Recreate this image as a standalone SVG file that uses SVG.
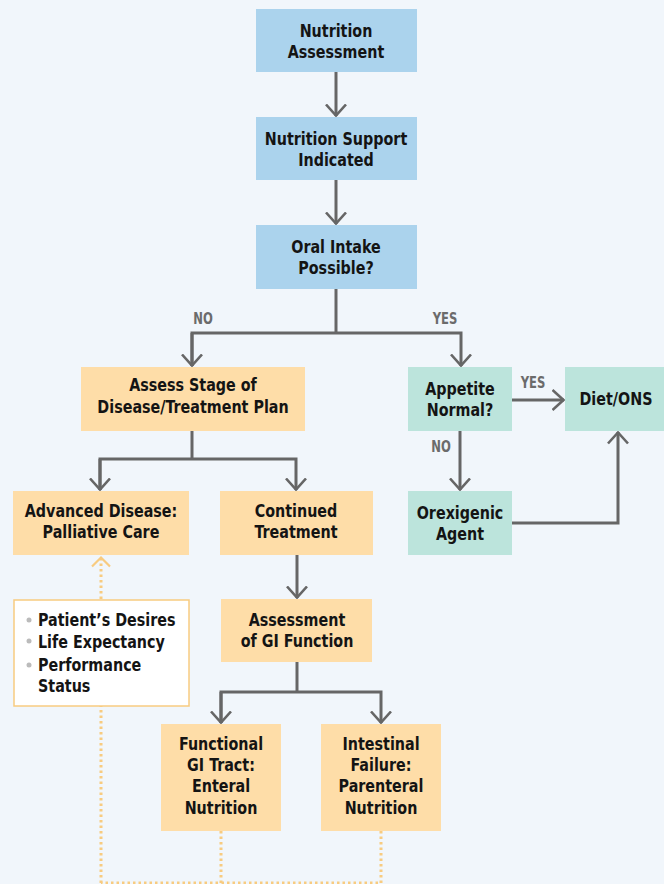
<svg xmlns="http://www.w3.org/2000/svg" width="664" height="884" viewBox="0 0 664 884">
<defs>
<style>
.t{font-family:"DejaVu Sans Condensed","Liberation Sans",sans-serif;font-weight:bold;font-size:18.5px;fill:#141414;text-anchor:middle}
.b{fill:#abd3ed}
.o{fill:#fedda8}
.g{fill:#bce4dc}
.c{fill:none;stroke:#666;stroke-width:3}
.d{fill:none;stroke:#f8cb80;stroke-width:3;stroke-dasharray:2.5 3}
.lbl{font-family:"DejaVu Sans Condensed","Liberation Sans",sans-serif;font-weight:bold;font-size:15px;fill:#6b6b6b;text-anchor:middle}
.bl{font-family:"DejaVu Sans Condensed","Liberation Sans",sans-serif;font-weight:bold;font-size:18.5px;fill:#141414}
</style>
<marker id="a" viewBox="0 0 14 22" refX="12.5" refY="11" markerWidth="14" markerHeight="22" markerUnits="userSpaceOnUse" orient="auto">
<path d="M1 1 L12 11 L1 21" fill="none" stroke="#666" stroke-width="2.6"/>
</marker>
<marker id="ad" viewBox="0 0 14 22" refX="12.5" refY="11" markerWidth="14" markerHeight="22" markerUnits="userSpaceOnUse" orient="auto">
<path d="M2 2 L11 11 L2 20" fill="none" stroke="#f8cb80" stroke-width="2.2"/>
</marker>
</defs>
<rect width="664" height="884" fill="#f1f6fb"/>
<g id="connectors">
<path class="c" d="M336 72 V116" marker-end="url(#a)"/>
<path class="c" d="M336 180 V224" marker-end="url(#a)"/>
<path class="c" d="M336 289 V333"/>
<path class="c" d="M192 366 V333 H461 V366" marker-end="url(#a)"/>
<path class="c" d="M192 333 V366" marker-end="url(#a)"/>
<path class="c" d="M512 400 H564" marker-end="url(#a)"/>
<path class="c" d="M460 431 V490" marker-end="url(#a)"/>
<path class="c" d="M512 523 H618 V432" marker-end="url(#a)"/>
<path class="c" d="M192 431 V459"/>
<path class="c" d="M100 490 V459 H296 V490" marker-end="url(#a)"/>
<path class="c" d="M100 459 V490" marker-end="url(#a)"/>
<path class="c" d="M297 555 V598" marker-end="url(#a)"/>
<path class="c" d="M297 662 V692"/>
<path class="c" d="M221 723 V692 H381 V723" marker-end="url(#a)"/>
<path class="c" d="M221 692 V723" marker-end="url(#a)"/>
<path class="d" d="M221 831 V883 H101"/>
<path class="d" d="M381 831 V883 H221"/>
<path class="d" d="M101 883 V706"/>
<path class="d" d="M101 599 V556" marker-end="url(#ad)"/>
<text class="lbl" transform="translate(203 324) scale(0.86 1)">NO</text>
<text class="lbl" transform="translate(445 324) scale(0.86 1)">YES</text>
<text class="lbl" transform="translate(533 388) scale(0.86 1)">YES</text>
<text class="lbl" transform="translate(441 452) scale(0.86 1)">NO</text>
</g>
<g id="n1"><rect class="b" x="256" y="9" width="161" height="63"/><text class="t" transform="translate(336 37) scale(0.86 1)">Nutrition</text><text class="t" transform="translate(336 58) scale(0.86 1)">Assessment</text></g>
<g id="n2"><rect class="b" x="256" y="117" width="161" height="63"/><text class="t" transform="translate(336 145) scale(0.86 1)">Nutrition Support</text><text class="t" transform="translate(336 166) scale(0.86 1)">Indicated</text></g>
<g id="n3"><rect class="b" x="256" y="225" width="161" height="64"/><text class="t" transform="translate(336 253) scale(0.86 1)">Oral Intake</text><text class="t" transform="translate(336 274) scale(0.86 1)">Possible?</text></g>
<g id="n4"><rect class="o" x="81" y="367" width="224" height="64"/><text class="t" transform="translate(193 391) scale(0.86 1)">Assess Stage of</text><text class="t" transform="translate(193 413) scale(0.86 1)">Disease/Treatment Plan</text></g>
<g id="n5"><rect class="g" x="408" y="367" width="104" height="64"/><text class="t" transform="translate(460 395) scale(0.86 1)">Appetite</text><text class="t" transform="translate(460 416) scale(0.86 1)">Normal?</text></g>
<g id="n6"><rect class="g" x="565" y="367" width="99" height="64"/><text class="t" transform="translate(616 405) scale(0.86 1)">Diet/ONS</text></g>
<g id="n7"><rect class="g" x="408" y="491" width="104" height="64"/><text class="t" transform="translate(460 519) scale(0.86 1)">Orexigenic</text><text class="t" transform="translate(460 540) scale(0.86 1)">Agent</text></g>
<g id="n8"><rect class="o" x="13" y="491" width="176" height="64"/><text class="t" transform="translate(101 517) scale(0.86 1)">Advanced Disease:</text><text class="t" transform="translate(101 538) scale(0.86 1)">Palliative Care</text></g>
<g id="n9"><rect class="o" x="220" y="491" width="153" height="64"/><text class="t" transform="translate(296 517) scale(0.86 1)">Continued</text><text class="t" transform="translate(296 538) scale(0.86 1)">Treatment</text></g>
<g id="n10"><rect x="14" y="600" width="175" height="106" fill="#fff" stroke="#f8cb80" stroke-width="1.5"/>
<circle cx="29" cy="620" r="2.5" fill="#bbb"/><circle cx="29" cy="641" r="2.5" fill="#bbb"/><circle cx="29" cy="665" r="2.5" fill="#bbb"/>
<text class="bl" transform="translate(38 626) scale(0.86 1)">Patient’s Desires</text><text class="bl" transform="translate(38 648) scale(0.86 1)">Life Expectancy</text><text class="bl" transform="translate(38 671) scale(0.86 1)">Performance</text><text class="bl" transform="translate(38 692) scale(0.86 1)">Status</text></g>
<g id="n11"><rect class="o" x="221" y="599" width="151" height="63"/><text class="t" transform="translate(297 626) scale(0.86 1)">Assessment</text><text class="t" transform="translate(297 647) scale(0.86 1)">of GI Function</text></g>
<g id="n12"><rect class="o" x="161" y="724" width="120" height="107"/><text class="t" transform="translate(221 750) scale(0.86 1)">Functional</text><text class="t" transform="translate(221 771) scale(0.86 1)">GI Tract:</text><text class="t" transform="translate(221 792) scale(0.86 1)">Enteral</text><text class="t" transform="translate(221 814) scale(0.86 1)">Nutrition</text></g>
<g id="n13"><rect class="o" x="321" y="724" width="120" height="107"/><text class="t" transform="translate(381 750) scale(0.86 1)">Intestinal</text><text class="t" transform="translate(381 771) scale(0.86 1)">Failure:</text><text class="t" transform="translate(381 792) scale(0.86 1)">Parenteral</text><text class="t" transform="translate(381 814) scale(0.86 1)">Nutrition</text></g>
</svg>
